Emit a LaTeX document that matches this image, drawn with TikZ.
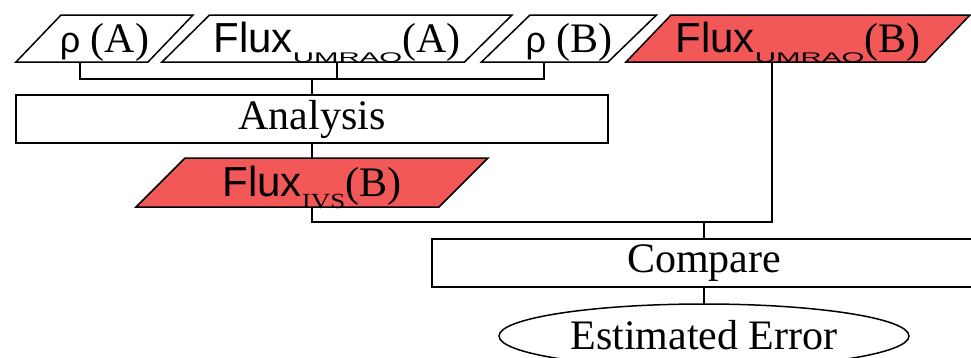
\documentclass[tikz,border=0pt]{standalone}
\usepackage{fontspec}
\setmainfont{Liberation Serif}
\newfontfamily\arialfont{Liberation Sans}
\usetikzlibrary{shapes.geometric,backgrounds}
\definecolor{hatchred}{RGB}{242,88,88}

% flattened sans subscript, serif subscript and the sans rho
\newcommand\subsans[1]{\raisebox{-10pt}{\scalebox{1.05}[0.5]{\arialfont\fontsize{28}{30}\selectfont #1}}}
\newcommand\subserif[1]{\raisebox{-12pt}{\scalebox{1}[0.8]{\fontsize{27}{30}\selectfont #1}}}
\newcommand\rhosym{{\arialfont\fontsize{36}{40}\selectfont ρ}}

% parallelogram round a rectangular node: #1 style, #2 node, #3 slant in pt
\newcommand\slantbox[3]{%
  \path[#1] ([xshift=-#3pt/2]#2.south west) -- ([xshift=-#3pt/2]#2.south east)
    -- ([xshift=#3pt/2]#2.north east) -- ([xshift=#3pt/2]#2.north west) -- cycle;}

\begin{document}
\begin{tikzpicture}[x=1pt,y=-1pt,
  every node/.style={font=\fontsize{42}{48}\selectfont, inner sep=0pt, outer sep=0pt},
  datum/.style={rectangle, minimum height=47pt, text height=31pt, text depth=4pt},
  datumline/.style={draw, line width=1.5pt, line join=miter},
  hotline/.style={datumline, fill=hatchred},
  stage/.style={rectangle, draw, line width=1.8pt, minimum height=48pt},
  link/.style={line width=1.8pt}
]
\useasboundingbox (0,0) rectangle (971,357);

% input data
\node[datum, minimum width=132pt]   (rhoA)  at (104.5,38.5) {\rhosym\ (A)};
\node[datum, minimum width=302.5pt] (fluxA) at (337,38.5)   {{\arialfont Flux}\subsans{UMRAO}(A)};
\node[datum, minimum width=126.5pt] (rhoB)  at (569,38.5)   {\rhosym\ (B)};
\node[datum, minimum width=299pt]   (fluxB) at (798,38.5)   {{\arialfont Flux}\subsans{UMRAO}(B)};

% processing
\node[stage, minimum width=592pt] (analysis) at (312,119) {Analysis};
\node[datum, minimum width=303pt, minimum height=49pt] (ivs) at (312,182.5) {{\arialfont Flux}\subserif{IVS}(B)};
\node[stage, minimum width=544pt] (compare) at (704,263) {Compare};
\node[ellipse, draw, line width=1.5pt, minimum width=410pt, minimum height=64pt,
      text height=29pt, text depth=3pt] (err) at (704,336) {Estimated Error};

% data outlines behind their labels
\begin{scope}[on background layer]
  \fill[white] (0,0) rectangle (971,357);
  \slantbox{datumline}{rhoA}{45}
  \slantbox{datumline}{fluxA}{47.5}
  \slantbox{datumline}{rhoB}{48.5}
  \slantbox{hotline}{fluxB}{45}
  \slantbox{hotline}{ivs}{49}
\end{scope}

% junction points
\coordinate (bus)  at (312,79);
\coordinate (join) at (704,222);

% connectors
\draw[link] ([xshift=-24.5pt]rhoA.south) |- (bus);
\draw[link] ([xshift=-25pt]rhoB.south) |- (bus);
\draw[link] (fluxA.south) -- (fluxA.south |- bus);
\draw[link] (bus) -- (analysis.north);
\draw[link] (analysis.south) -- (ivs.north);
\draw[link] (ivs.south) |- (join);
\draw[link] ([xshift=-26pt]fluxB.south) |- (join);
\draw[link] (join) -- (compare.north);
\draw[link] (compare.south) -- (err.north);
\end{tikzpicture}
\end{document}
